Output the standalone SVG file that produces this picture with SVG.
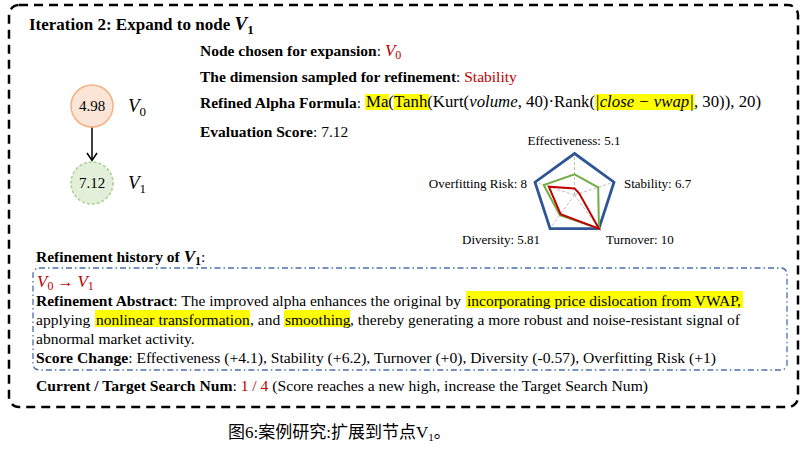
<svg xmlns="http://www.w3.org/2000/svg" width="808" height="450" viewBox="0 0 808 450">
<style>
text{font-family:"Liberation Serif","Times New Roman",serif;fill:#000}
.b{font-weight:bold}
.t{font-size:15.5px}
.red{fill:#c00000}
.hl{fill:#ffff00}
.lab{font-size:13px}
.ax{stroke:#bfbfbf;stroke-width:1;stroke-dasharray:3 2;fill:none}
</style>
<rect x="9" y="5" width="789" height="402" rx="10" fill="none" stroke="#000" stroke-width="2.5" stroke-dasharray="9 6"/>
<text x="29" y="30" class="b" font-size="17">Iteration 2: Expand to node <tspan font-style="italic" font-size="19">V</tspan><tspan font-size="13" dy="4">1</tspan></text>

<g id="connectors">
<line x1="92" y1="127" x2="92" y2="160" stroke="#000" stroke-width="1.5"/>
<polyline points="87,153 92,160.5 97,153" fill="none" stroke="#000" stroke-width="1.5"/>
</g>
<g id="node-v0">
<circle cx="92" cy="106" r="21" fill="#fbe5d6" stroke="#f4b183" stroke-width="1.5"/>
<text x="92" y="111" font-size="15" text-anchor="middle">4.98</text>
<text x="128" y="112" font-size="19" font-style="italic">V<tspan font-style="normal" font-size="13" dy="4">0</tspan></text>
</g>
<g id="node-v1">
<circle cx="92" cy="183" r="21" fill="#e2f0d9" stroke="#a9d18e" stroke-width="1.5" stroke-dasharray="3 2"/>
<text x="92" y="188" font-size="15" text-anchor="middle">7.12</text>
<text x="128" y="189" font-size="19" font-style="italic">V<tspan font-style="normal" font-size="13" dy="4">1</tspan></text>
</g>

<text x="200" y="56" class="t"><tspan class="b">Node chosen for expansion</tspan>: <tspan class="red" font-style="italic" font-size="17">V</tspan><tspan class="red" font-size="12" dy="3">0</tspan></text>
<text x="200" y="82" class="t"><tspan class="b">The dimension sampled for refinement</tspan>: <tspan class="red">Stability</tspan></text>
<text x="200" y="108" class="t"><tspan class="b">Refined Alpha Formula</tspan>:</text>
<rect class="hl" x="365" y="94" width="24" height="16"/>
<rect class="hl" x="393.5" y="94" width="35.5" height="16"/>
<rect class="hl" x="595" y="94" width="99.5" height="16"/>
<text x="366" y="107" font-size="16.8">Ma(Tanh(Kurt(<tspan font-style="italic">volume</tspan>, 40)·Rank(<tspan font-style="italic">|close − vwap|</tspan>, 30)), 20)</text>
<text x="200" y="137" class="t"><tspan class="b">Evaluation Score</tspan>: 7.12</text>

<g id="radar">
<line class="ax" x1="574.5" y1="195" x2="574.5" y2="153.5"/>
<line class="ax" x1="574.5" y1="195" x2="614" y2="182.2"/>
<line class="ax" x1="574.5" y1="195" x2="598.9" y2="228.6"/>
<line class="ax" x1="574.5" y1="195" x2="550.1" y2="228.6"/>
<line class="ax" x1="574.5" y1="195" x2="535" y2="182.2"/>
<polygon points="574.5,153.5 614,182.2 598.9,228.6 550.1,228.6 535,182.2" fill="none" stroke="#2f5597" stroke-width="2.8"/>
<polygon points="574.5,174.3 598.2,187.3 598.9,228.6 559.9,215.1 543.7,185" fill="none" stroke="#70ad47" stroke-width="2"/>
<polygon points="574.5,188.4 579.3,193.5 598.9,228.6 560.6,214.2 548.8,186.7" fill="none" stroke="#c00000" stroke-width="2"/>
<text x="574" y="145" class="lab" text-anchor="middle">Effectiveness: 5.1</text>
<text x="624" y="188" class="lab">Stability: 6.7</text>
<text x="527" y="188" class="lab" text-anchor="end">Overfitting Risk: 8</text>
<text x="540" y="244" class="lab" text-anchor="end">Diversity: 5.81</text>
<text x="606" y="244" class="lab">Turnover: 10</text>
</g>

<text x="36" y="262" class="t"><tspan class="b">Refinement history of </tspan><tspan class="b" font-style="italic" font-size="17">V</tspan><tspan class="b" font-size="12" dy="3">1</tspan><tspan dy="-3">:</tspan></text>
<rect x="33" y="268" width="754" height="102" rx="6" fill="none" stroke="#4a6fb0" stroke-width="1.3" stroke-dasharray="6 3 1.5 3"/>
<text x="37" y="287" font-size="17" font-style="italic" class="red">V<tspan font-style="normal" font-size="12" dy="3">0</tspan><tspan font-style="normal" font-size="16" dy="-3"> → </tspan>V<tspan font-style="normal" font-size="12" dy="3">1</tspan></text>

<rect class="hl" x="466" y="291" width="277" height="17"/>
<rect class="hl" x="95" y="310" width="155" height="17"/>
<rect class="hl" x="284" y="310" width="66" height="17"/>
<g class="t">
<text y="306"><tspan x="36" class="b">Refinement Abstract</tspan>: The improved alpha enhances the original by <tspan x="467">incorporating price dislocation from VWAP</tspan>,</text>
<text y="325"><tspan x="36">applying </tspan><tspan x="96">nonlinear transformation</tspan><tspan x="250">, and </tspan><tspan x="285">smoothing</tspan><tspan x="350">, thereby generating a more robust and noise-resistant signal of</tspan></text>
<text x="36" y="344">abnormal market activity.</text>
<text x="36" y="363" textLength="680" lengthAdjust="spacingAndGlyphs"><tspan class="b">Score Change</tspan>: Effectiveness (+4.1), Stability (+6.2), Turnover (+0), Diversity (-0.57), Overfitting Risk (+1)</text>
<text x="36" y="391" textLength="612" lengthAdjust="spacingAndGlyphs"><tspan class="b">Current / Target Search Num</tspan>: <tspan class="red">1 / 4</tspan> (Score reaches a new high, increase the Target Search Num)</text>
</g>

<text x="228" y="438" font-size="17" style="font-family:'Liberation Serif','Noto Sans CJK SC',serif">图6:案例研究:扩展到节点V<tspan font-size="11" dy="3">1</tspan><tspan dy="-3">。</tspan></text>
</svg>
